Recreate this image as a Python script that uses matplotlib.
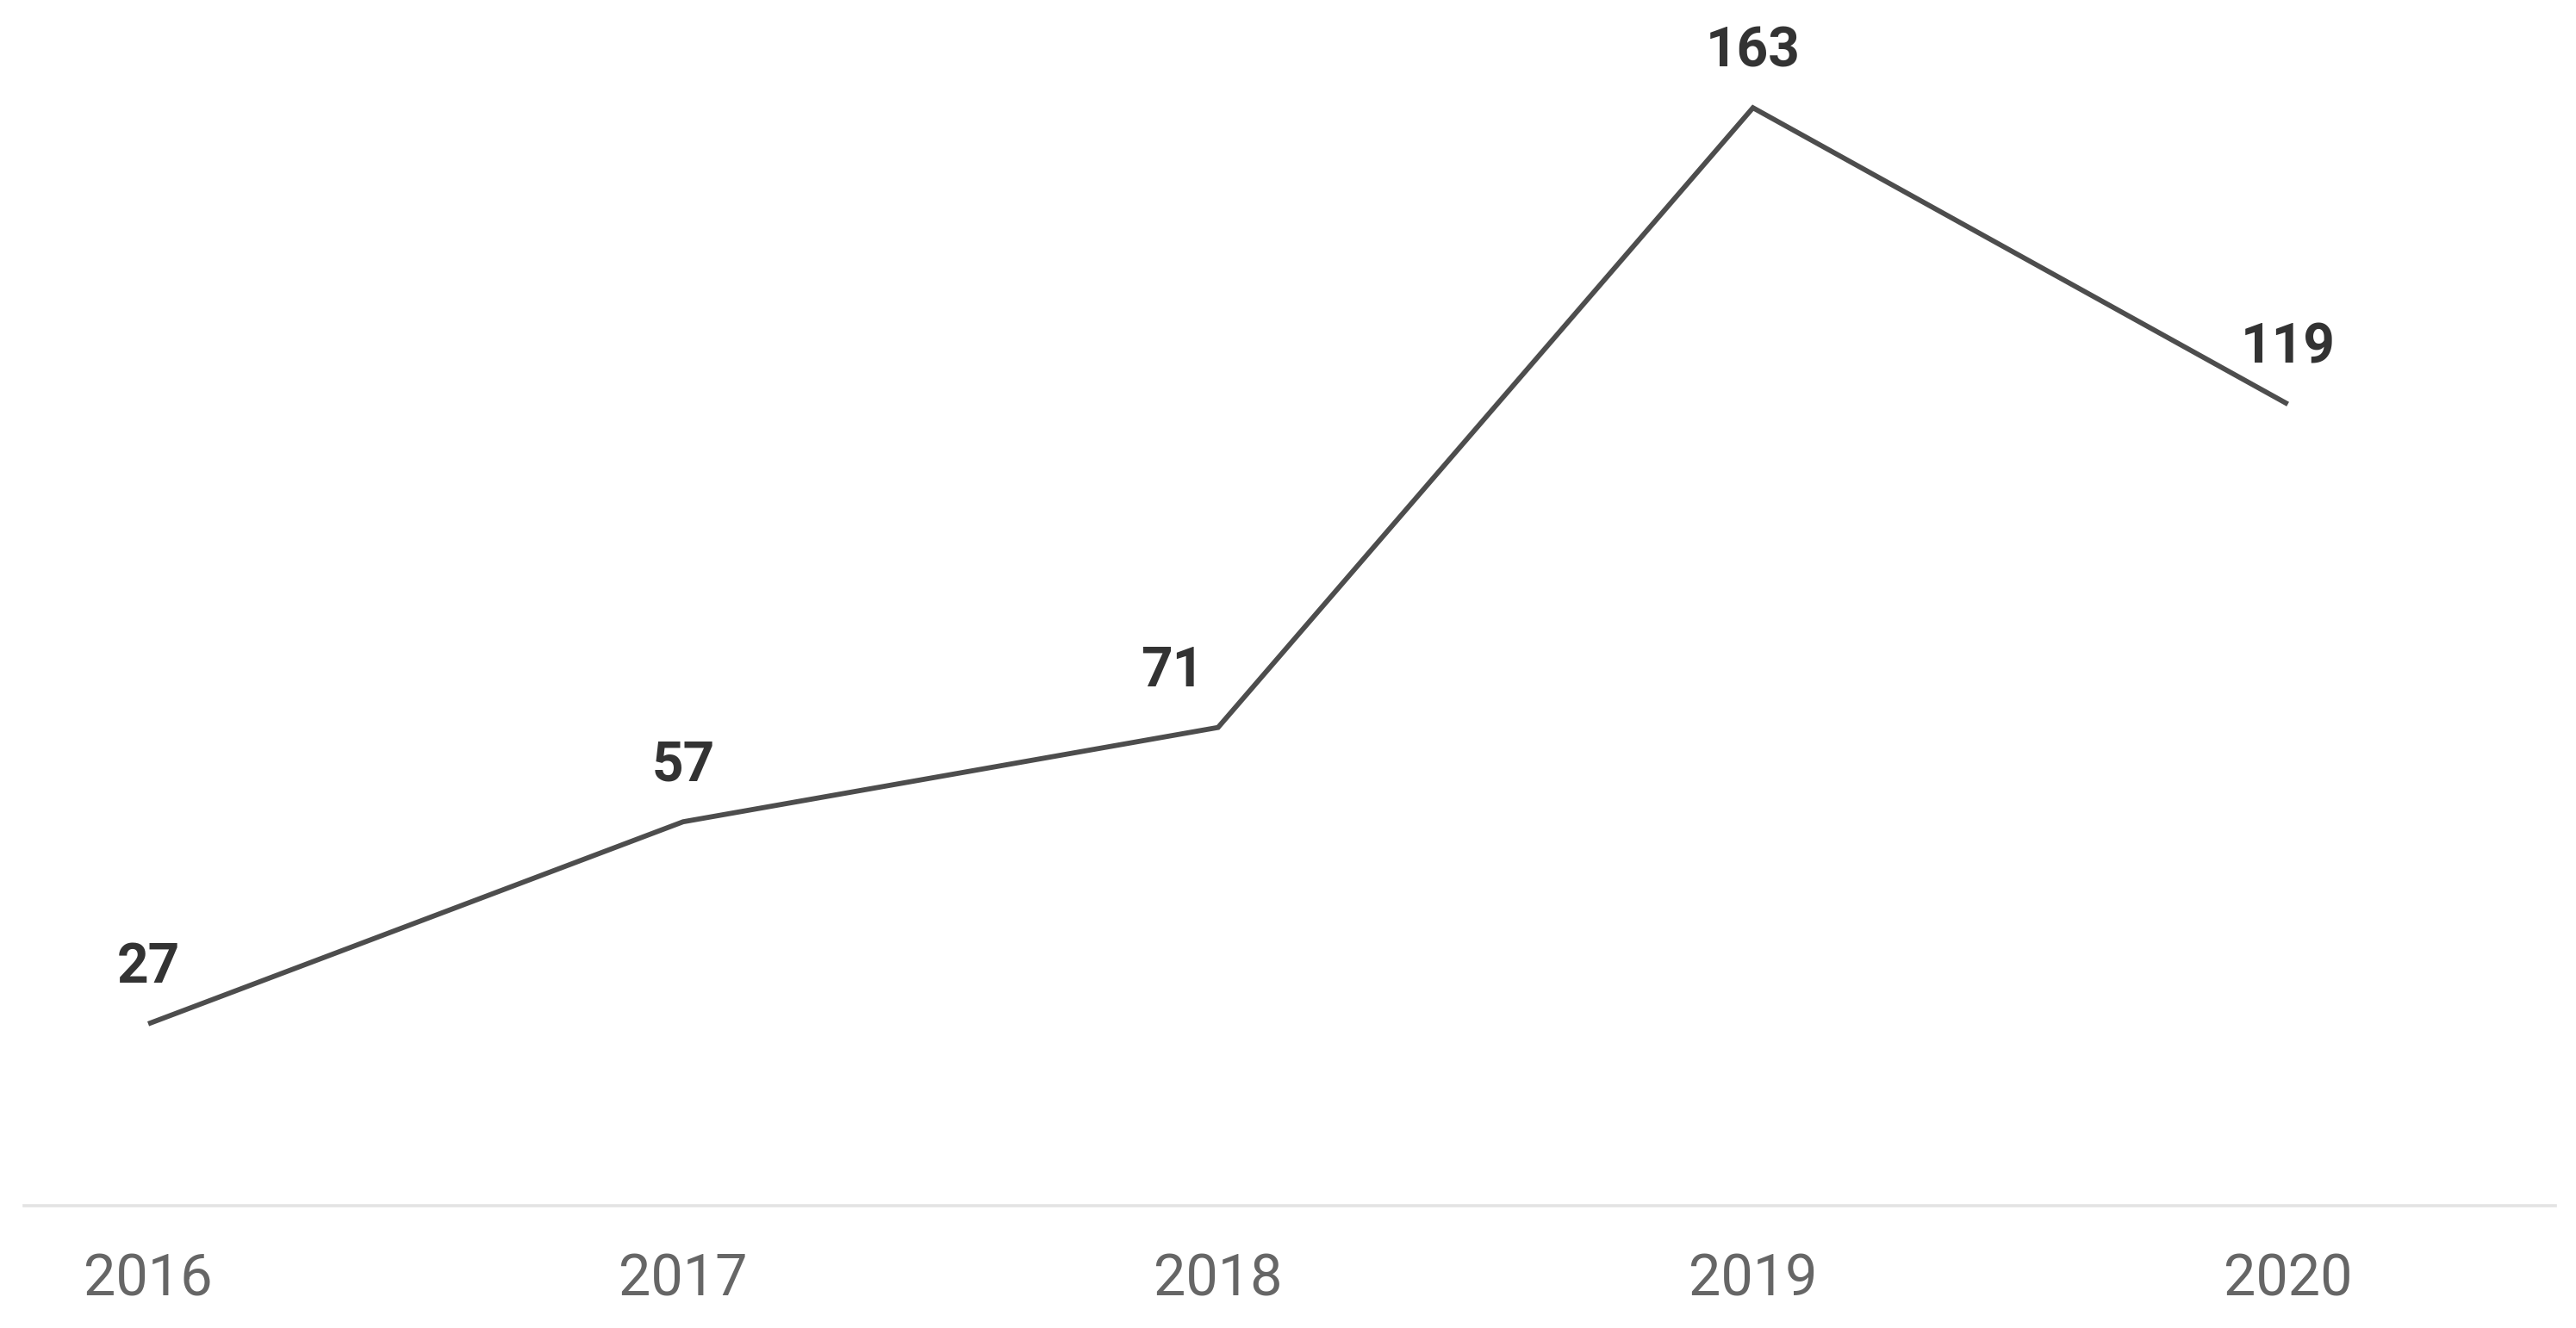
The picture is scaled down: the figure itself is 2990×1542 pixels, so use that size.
import matplotlib
matplotlib.use("Agg")
import matplotlib.pyplot as plt

years = ["2016", "2017", "2018", "2019", "2020"]
values = [27, 57, 71, 163, 119]
label_dx = [0, 0, -53, 0, 0]  # pixel offsets of value labels

fam = ["Roboto", "DejaVu Sans"]

W, H = 2990, 1542
fig = plt.figure(figsize=(W / 100, H / 100), dpi=100)
ax = fig.add_axes([28 / W, (H - 1400) / H, (2966 - 28) / W, 1400 / H])
x = list(range(len(years)))
ax.plot(x, values, color="#4d4d4d", lw=4.2, solid_joinstyle="miter",
        solid_capstyle="butt", clip_on=False)
ax.set_xlim(-0.232, 4.5)
ax.set_ylim(0, 179)
for s in ["top", "right", "left"]:
    ax.spines[s].set_visible(False)
ax.spines["bottom"].set_color("#e3e3e3")
ax.spines["bottom"].set_linewidth(2.6)
ax.set_yticks([])
ax.set_xticks(x)
ax.set_xticklabels(years, family=fam, fontsize=48, color="#666666")
ax.tick_params(axis="x", length=0, pad=39)

for xi, v, dx in zip(x, values, label_dx):
    ax.annotate(str(v), (xi, v), xytext=(dx, 65), textcoords="offset pixels",
                ha="center", va="center", family=fam, fontsize=46,
                fontweight="bold", color="#333333", annotation_clip=False)

fig.savefig("out.png", dpi=100, facecolor="white")
